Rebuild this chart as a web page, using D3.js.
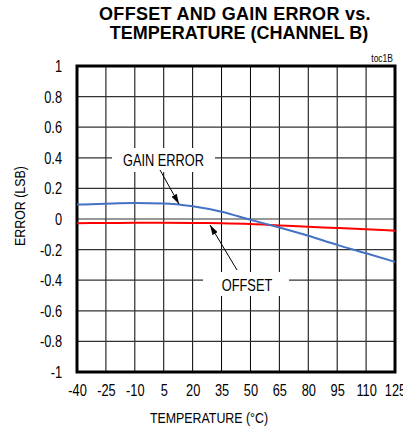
<!DOCTYPE html>
<html>
<head>
<meta charset="utf-8">
<script src="https://cdn.jsdelivr.net/npm/d3@7"></script>
<style>
  body { margin: 0; background: #fff; }
  text { font-family: "Liberation Sans", Arial, sans-serif; fill: #000; }
</style>
</head>
<body>
<svg id="chart" width="403" height="431"></svg>
<script>
// values
const temps = [-40, -25, -10, 5, 20, 35, 50, 65, 80, 95, 110, 125];
const gainError = [0.094, 0.1, 0.104, 0.102, 0.084, 0.048, -0.005, -0.056, -0.11, -0.169, -0.224, -0.28];
const offsetError = [-0.027, -0.026, -0.025, -0.025, -0.026, -0.028, -0.033, -0.042, -0.051, -0.059, -0.067, -0.076];
const xTicks = [-40, -25, -10, 5, 20, 35, 50, 65, 80, 95, 110, 125];
const yTicks = [1, 0.8, 0.6, 0.4, 0.2, 0, -0.2, -0.4, -0.6, -0.8, -1];

const plotLeft = 77, plotRight = 395, plotTop = 66, plotBottom = 372;
const sx = 0.8; // narrow text

const svg = d3.select("#chart");

const x = d3.scaleLinear().domain([-40, 125]).range([plotLeft, plotRight]);
const y = d3.scaleLinear().domain([-1, 1]).range([plotBottom, plotTop]);

// title
svg.append("text")
  .attr("x", 235).attr("y", 20)
  .attr("text-anchor", "middle")
  .style("font-size", "18px").style("font-weight", "bold")
  .style("letter-spacing", "0.3px")
  .text("OFFSET AND GAIN ERROR vs.");
svg.append("text")
  .attr("x", 239).attr("y", 39)
  .attr("text-anchor", "middle")
  .style("font-size", "18px").style("font-weight", "bold")
  .text("TEMPERATURE (CHANNEL B)");

svg.append("text")
  .attr("transform", "translate(393,62) scale(0.85,1)")
  .attr("text-anchor", "end")
  .style("font-size", "10px")
  .text("toc1B");

// grid
const grid = svg.append("g");
grid.selectAll("line.v")
  .data(xTicks)
  .enter()
  .append("line")
  .attr("x1", d => x(d)).attr("x2", d => x(d))
  .attr("y1", plotTop).attr("y2", plotBottom)
  .attr("stroke", "#000")
  .attr("stroke-width", 1);
grid.selectAll("line.h")
  .data(yTicks)
  .enter()
  .append("line")
  .attr("x1", plotLeft).attr("x2", plotRight)
  .attr("y1", d => y(d)).attr("y2", d => y(d))
  .attr("stroke", "#333")
  .attr("stroke-width", 1.2);

// white boxes behind the curve labels
svg.append("rect").attr("x", 112).attr("y", 148).attr("width", 103).attr("height", 24).attr("fill", "#fff");
svg.append("rect").attr("x", 203).attr("y", 272).attr("width", 86).attr("height", 24).attr("fill", "#fff");

// frame
svg.append("rect")
  .attr("x", plotLeft).attr("y", plotTop)
  .attr("width", plotRight - plotLeft).attr("height", plotBottom - plotTop)
  .attr("fill", "none")
  .attr("stroke", "#000")
  .attr("stroke-width", 3);

// axes (labels only)
const yAxis = svg.append("g")
  .attr("transform", "translate(" + plotLeft + ",0)")
  .call(d3.axisLeft(y).tickValues(yTicks).tickSize(0).tickPadding(0)
    .tickFormat(d => String(Math.round(d * 10) / 10)));
yAxis.select(".domain").remove();
yAxis.selectAll("text")
  .attr("x", -15 / sx)
  .attr("dy", "0.34em")
  .attr("transform", "scale(" + sx + ",1)")
  .style("font-size", "16px")
  .style("font-family", "'Liberation Sans', Arial, sans-serif");

const xAxis = svg.append("g")
  .attr("transform", "translate(0," + plotBottom + ")")
  .call(d3.axisBottom(x).tickValues(xTicks).tickSize(0).tickPadding(0)
    .tickFormat(d => String(d)));
xAxis.select(".domain").remove();
xAxis.selectAll("text")
  .attr("y", 13)
  .attr("transform", "scale(" + sx + ",1)")
  .style("font-size", "16px")
  .style("font-family", "'Liberation Sans', Arial, sans-serif");

// axis titles
svg.append("text")
  .attr("transform", "translate(209,423) scale(" + sx + ",1)")
  .attr("text-anchor", "middle")
  .style("font-size", "15.5px")
  .text("TEMPERATURE  (°C)");
svg.append("text")
  .attr("transform", "translate(25,206) rotate(-90) scale(" + sx + ",1)")
  .attr("text-anchor", "middle")
  .style("font-size", "15.5px")
  .text("ERROR (LSB)");

// curves
const line = d3.line()
  .x((d, i) => x(temps[i]))
  .y(d => y(d))
  .curve(d3.curveMonotoneX);

svg.append("path")
  .datum(offsetError)
  .attr("d", line)
  .attr("fill", "none")
  .attr("stroke", "#ff0000")
  .attr("stroke-width", 2);
svg.append("path")
  .datum(gainError)
  .attr("d", line)
  .attr("fill", "none")
  .attr("stroke", "#4472c4")
  .attr("stroke-width", 2);

// arrows
svg.append("defs").append("marker")
  .attr("id", "head")
  .attr("viewBox", "0 0 10 6")
  .attr("refX", 10).attr("refY", 3)
  .attr("markerWidth", 10).attr("markerHeight", 6)
  .attr("markerUnits", "userSpaceOnUse")
  .attr("orient", "auto")
  .append("path")
  .attr("d", "M0,0L10,3L0,6Z")
  .attr("fill", "#000");

svg.append("line")
  .attr("x1", 160).attr("y1", 170).attr("x2", 179).attr("y2", 204)
  .attr("stroke", "#000").attr("stroke-width", 1)
  .attr("marker-end", "url(#head)");
svg.append("line")
  .attr("x1", 237).attr("y1", 270).attr("x2", 210).attr("y2", 225)
  .attr("stroke", "#000").attr("stroke-width", 1)
  .attr("marker-end", "url(#head)");

// curve labels
svg.append("text")
  .attr("transform", "translate(163.5,165.5) scale(" + sx + ",1)")
  .attr("text-anchor", "middle")
  .style("font-size", "16px")
  .text("GAIN ERROR");
svg.append("text")
  .attr("transform", "translate(247,291) scale(" + sx + ",1)")
  .attr("text-anchor", "middle")
  .style("font-size", "16px")
  .text("OFFSET");
</script>
</body>
</html>
